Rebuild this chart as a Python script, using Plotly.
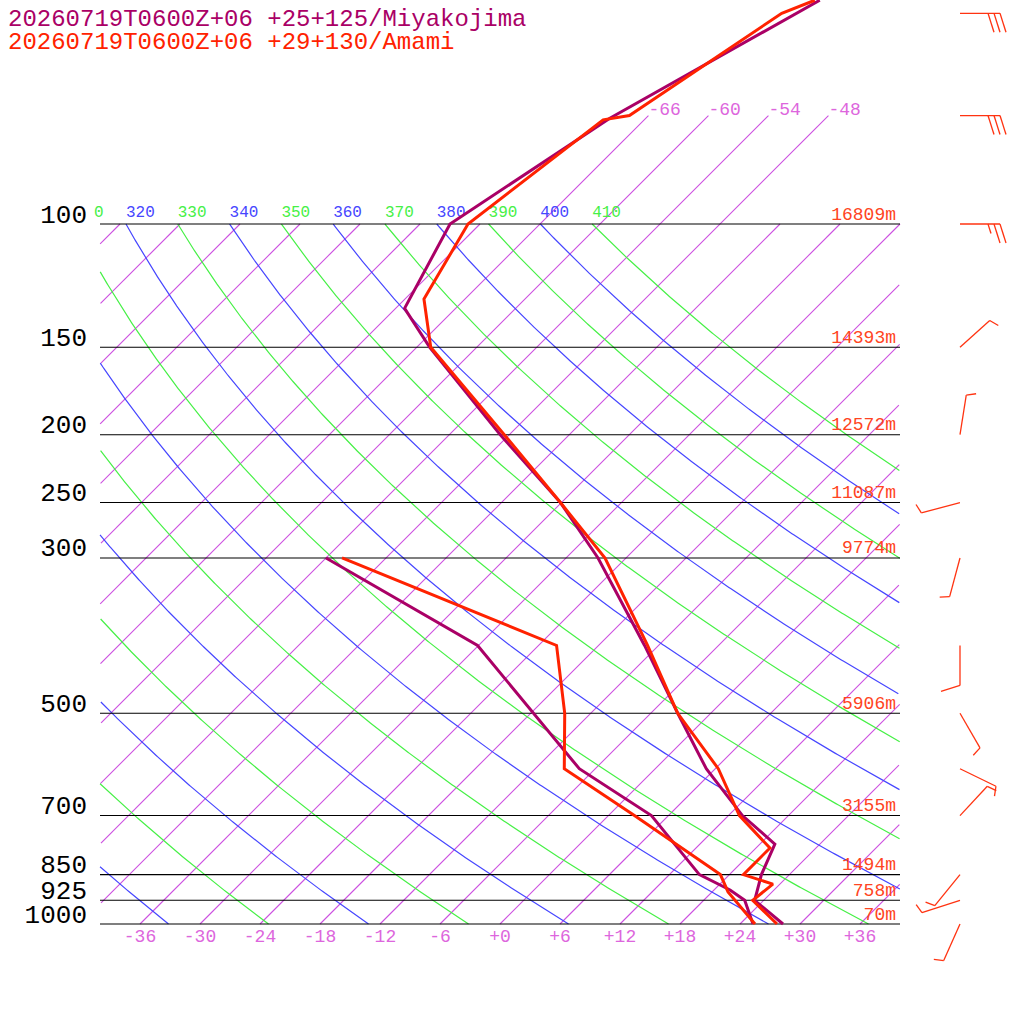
import numpy as np
import plotly.graph_objects as go

# ---------------- data ----------------
titles = ["20260719T0600Z+06 +25+125/Miyakojima", "20260719T0600Z+06 +29+130/Amami"]
colors = ["#aa0066", "#ff2200"]

miy_t_p = [1000, 925, 850, 769, 700, 600, 500, 400, 300, 250, 200, 150, 132, 100, 70.6, 49.8, 47.9]
miy_t = [28.3, 23.1, 21.2, 19.5, 13.4, 5.1, -3.3, -13.4, -26.8, -36.1, -48.9, -64.7, -71.1, -75.0, -69.6, -61.2, -60.4]
miy_d_p = [1000, 925, 894, 850, 700, 600, 400, 300]
miy_d = [25.3, 22.1, 19.6, 15.0, 4.3, -7.6, -30.1, -54.0]

ama_t_p = [1000, 925, 877, 850, 779, 700, 600, 500, 400, 300, 250, 200, 150, 128, 100, 71, 70, 50, 47.9]
ama_t = [27.7, 22.9, 23.3, 19.4, 19.4, 13.1, 6.3, -3.3, -13.1, -26.1, -36.1, -48.5, -64.6, -70.1, -73.2, -70.1, -67.9, -62.9, -60.9]
ama_d_p = [1000, 900, 850, 700, 600, 500, 400, 300]
ama_d = [25.5, 19.6, 17.1, 2.6, -9.1, -14.6, -22.2, -52.4]

isobars = [100, 150, 200, 250, 300, 500, 700, 850, 925, 1000]
height_p = [100, 150, 200, 250, 300, 500, 700, 850, 925, 1000]
height_lbl = ["16809m", "14393m", "12572m", "11087m", "9774m", "5906m", "3155m", "1494m", "758m", "70m"]
isotherms = list(range(-150, 43, 6))
iso_top_labels = [-66, -60, -54, -48]
bottom_ticks = list(range(-36, 37, 6))
thetas = list(range(200, 411, 10))

wind_p = [50, 70, 100, 150, 200, 250, 300, 400, 500, 600, 700, 850, 925, 1000]
wind_dir = [90, 90, 90, 48, 9, 255, 195, 180, 150, 116, 43, 219, 252, 204]
wind_kt = [30, 30, 25, 5, 5, 5, 5, 10, 5, 5, 5, 5, 5, 5]

# ---------------- geometry helpers ----------------
SKEW = 70.0
XMIN, XMAX = -40, 40
PXDEC = 700.0  # pixels per pressure decade

def skx(T, p):
    return np.asarray(T, float) + SKEW * np.log10(1000.0 / np.asarray(p, float))

def clip(x, p):
    x = np.array(x, float); p = np.array(p, float)
    bad = (x < XMIN) | (x > XMAX)
    x[bad] = np.nan
    return x, p

def shift_p(p, dy_px):
    return np.asarray(p, float) * 10 ** (dy_px / PXDEC)

fig = go.Figure()
mono = "Liberation Mono"

def line(x, p, color, width=1.0):
    fig.add_trace(go.Scatter(x=list(x), y=list(p), mode="lines", line=dict(color=color, width=width),
                             hoverinfo="skip", showlegend=False, connectgaps=False))

def text(x, p, t, pos, size, color):
    fig.add_trace(go.Scatter(x=list(x), y=list(p), mode="text", text=t, textposition=pos,
                             textfont=dict(family=mono, size=size, color=color),
                             hoverinfo="skip", showlegend=False))

# isotherms
for T in isotherms:
    ptop = 70 if T in iso_top_labels else 100
    pp = np.logspace(np.log10(1000), np.log10(ptop), 600)
    x, pp = clip(skx(T, pp), pp)
    line(x, pp, "rgb(204,80,224)", 1.1)

# dry adiabats
for th in thetas:
    pp = np.logspace(np.log10(1000), np.log10(100), 600)
    T = th * (pp / 1000.0) ** 0.2857 - 273.15
    x, pp = clip(skx(T, pp), pp)
    col = "rgb(70,70,255)" if (th // 10) % 2 == 0 else "rgb(70,240,70)"
    line(x, pp, col, 1.2)
    if 310 <= th:
        x100 = float(skx(th * 0.1 ** 0.2857 - 273.15, 100))
        txt = str(th)
        if x100 < XMIN:
            txt = str(th)[-1]
            x100 = XMIN - 0.6
        text([x100], shift_p([100], -11), [txt], "middle right", 16, col)

# isobars
for p in isobars:
    line([XMIN, XMAX], [p, p], "black", 1.1)
text([XMIN - 1.3] * len(isobars), shift_p(isobars, -8), [str(p) for p in isobars],
     "middle left", 26, "black")
text([XMAX - 0.4] * len(height_p), shift_p(height_p, -9), height_lbl, "middle left", 18, "#ff4422")
# isotherm top labels
text([float(skx(T, 70)) for T in iso_top_labels], shift_p([70] * 4, -5),
     [str(T) for T in iso_top_labels], "middle right", 18, "#dd66dd")
# bottom ticks
text(bottom_ticks, shift_p([1000] * len(bottom_ticks), 13),
     [("+%d" % t) if t >= 0 else "%d" % t for t in bottom_ticks], "middle center", 18, "#dd66dd")

# soundings
for (tp, t, dp, d, c) in [(miy_t_p, miy_t, miy_d_p, miy_d, colors[0]),
                          (ama_t_p, ama_t, ama_d_p, ama_d, colors[1])]:
    line(skx(t, tp), tp, c, 3)
    line(skx(d, dp), dp, c, 3)

# wind barbs (pixel-sized, placed beside the chart)
XB = 46.0
def px_to_data(p0, dx, dy):
    return XB + dx / 10.0, 10 ** (np.log10(p0) + dy / PXDEC)

bx, by = [], []
for p0, d, s in zip(wind_p, wind_dir, wind_kt):
    r = np.radians(d)
    u = np.array([np.sin(r), -np.cos(r)])
    perp = np.array([-u[1], u[0]])
    L = 40
    seg = [[np.array([0.0, 0.0]), u * L]]
    n_full = s // 10
    half = (s % 10) >= 5
    pos = L
    tick = 0.3 * u + 0.95 * perp
    for i in range(n_full):
        a = u * pos
        seg.append([a, a + tick * 20])
        pos -= 6
    if half:
        a = u * pos
        seg.append([a, a + tick * 10])
    for sgm in seg:
        for q in sgm:
            xx, yy = px_to_data(p0, q[0], q[1])
            bx.append(xx); by.append(yy)
        bx.append(None); by.append(None)
fig.add_trace(go.Scatter(x=bx, y=by, mode="lines", line=dict(color="#ff3311", width=1.3),
                         hoverinfo="skip", showlegend=False))

# titles
for i, (t, c) in enumerate(zip(titles, colors)):
    fig.add_annotation(x=0.006, y=1 - (4 + 23 * i) / 1024, xref="paper", yref="paper",
                       text=t, showarrow=False, xanchor="left", yanchor="top",
                       font=dict(family=mono, size=24, color=c))

fig.update_layout(
    width=1024, height=1024, margin=dict(l=0, r=0, t=0, b=0),
    paper_bgcolor="white", plot_bgcolor="white",
    xaxis=dict(range=[-50, 52.4], visible=False, showgrid=False),
    yaxis=dict(type="log", range=[3 + 100 / 700, 3 - 924 / 700], visible=False, showgrid=False),
)
fig.write_html("out.html", config={"displayModeBar": False},
               post_script="document.body.style.margin='0';document.body.style.overflow='hidden';")
